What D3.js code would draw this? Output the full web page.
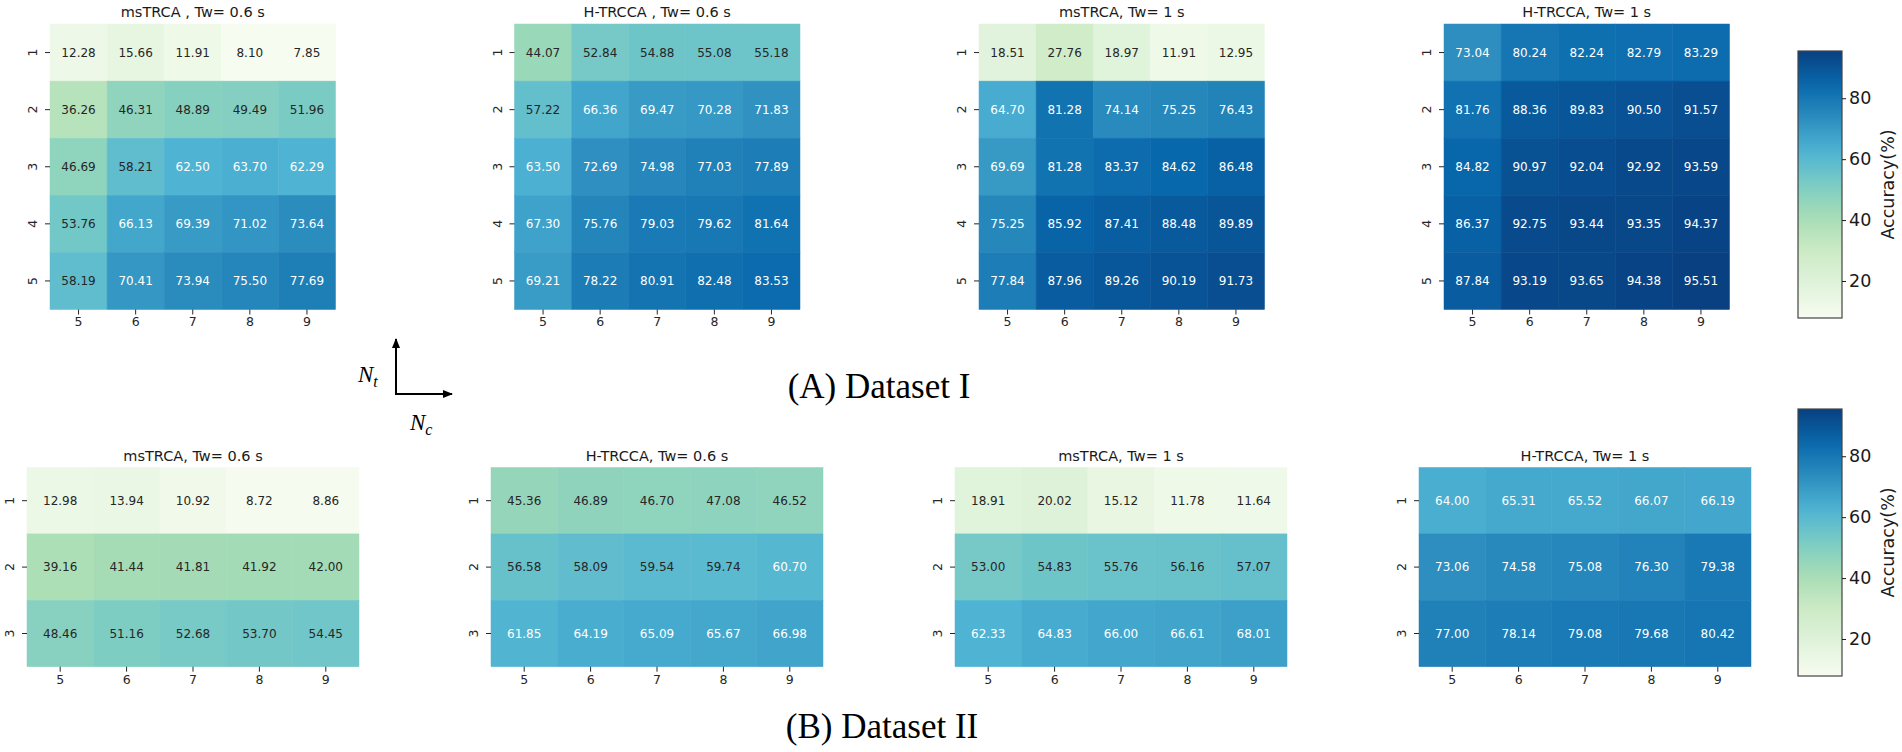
<!DOCTYPE html>
<html>
<head>
<meta charset="utf-8">
<script src="https://cdn.jsdelivr.net/npm/d3@7"></script>
<style>
  body { margin: 0; background: #fff; }
  svg text { font-family: "DejaVu Sans", sans-serif; }
</style>
</head>
<body>
<svg id="chart" width="1902" height="752"></svg>
<script>
// Nc on the x axis, Nt on the y axis
const ncValues = [5, 6, 7, 8, 9];
const ntValuesA = [1, 2, 3, 4, 5];
const ntValuesB = [1, 2, 3];

const titlesA = ["msTRCA , Tw= 0.6 s", "H-TRCCA , Tw= 0.6 s", "msTRCA, Tw= 1 s", "H-TRCCA, Tw= 1 s"];
const titlesB = ["msTRCA, Tw= 0.6 s", "H-TRCCA, Tw= 0.6 s", "msTRCA, Tw= 1 s", "H-TRCCA, Tw= 1 s"];

// Dataset I
const msTRCA06A = [
    [12.28, 15.66, 11.91, 8.10, 7.85],
    [36.26, 46.31, 48.89, 49.49, 51.96],
    [46.69, 58.21, 62.50, 63.70, 62.29],
    [53.76, 66.13, 69.39, 71.02, 73.64],
    [58.19, 70.41, 73.94, 75.50, 77.69]
];
const hTRCCA06A = [
    [44.07, 52.84, 54.88, 55.08, 55.18],
    [57.22, 66.36, 69.47, 70.28, 71.83],
    [63.50, 72.69, 74.98, 77.03, 77.89],
    [67.30, 75.76, 79.03, 79.62, 81.64],
    [69.21, 78.22, 80.91, 82.48, 83.53]
];
const msTRCA1A = [
    [18.51, 27.76, 18.97, 11.91, 12.95],
    [64.70, 81.28, 74.14, 75.25, 76.43],
    [69.69, 81.28, 83.37, 84.62, 86.48],
    [75.25, 85.92, 87.41, 88.48, 89.89],
    [77.84, 87.96, 89.26, 90.19, 91.73]
];
const hTRCCA1A = [
    [73.04, 80.24, 82.24, 82.79, 83.29],
    [81.76, 88.36, 89.83, 90.50, 91.57],
    [84.82, 90.97, 92.04, 92.92, 93.59],
    [86.37, 92.75, 93.44, 93.35, 94.37],
    [87.84, 93.19, 93.65, 94.38, 95.51]
];

// Dataset II
const msTRCA06B = [
    [12.98, 13.94, 10.92, 8.72, 8.86],
    [39.16, 41.44, 41.81, 41.92, 42.00],
    [48.46, 51.16, 52.68, 53.70, 54.45]
];
const hTRCCA06B = [
    [45.36, 46.89, 46.70, 47.08, 46.52],
    [56.58, 58.09, 59.54, 59.74, 60.70],
    [61.85, 64.19, 65.09, 65.67, 66.98]
];
const msTRCA1B = [
    [18.91, 20.02, 15.12, 11.78, 11.64],
    [53.00, 54.83, 55.76, 56.16, 57.07],
    [62.33, 64.83, 66.00, 66.61, 68.01]
];
const hTRCCA1B = [
    [64.00, 65.31, 65.52, 66.07, 66.19],
    [73.06, 74.58, 75.08, 76.30, 79.38],
    [77.00, 78.14, 79.08, 79.68, 80.42]
];

const colorbarTicks = [20, 40, 60, 80];

const svg = d3.select("#chart");

// shared colour range (both colorbars run 7.85 .. 95.51)
const allValues = [msTRCA06A, hTRCCA06A, msTRCA1A, hTRCCA1A].flat(2);
const vmin = d3.min(allValues), vmax = d3.max(allValues);
const gnbu = d3.schemeGnBu[9];
const color = d3.scaleLinear()
    .domain(gnbu.map((c, i) => vmin + i * (vmax - vmin) / 8))
    .range(gnbu)
    .interpolate(d3.interpolateRgb);

// seaborn picks annotation colour from the cell luminance
function luminance(c) {
    const rgb = d3.rgb(c);
    const lin = v => { v /= 255; return v <= 0.03928 ? v / 12.92 : Math.pow((v + 0.055) / 1.055, 2.4); };
    return 0.2126 * lin(rgb.r) + 0.7152 * lin(rgb.g) + 0.0722 * lin(rgb.b);
}

function drawHeatmap(data, rows, title, left, top, cell) {
    const x = d3.scaleBand().domain(ncValues).range([left, left + cell * ncValues.length]);
    const y = d3.scaleBand().domain(rows).range([top, top + cell * rows.length]);

    const cells = [];
    data.forEach((row, i) => row.forEach((v, j) => cells.push({nt: rows[i], nc: ncValues[j], v: v})));

    const g = svg.append("g");
    g.selectAll("rect")
        .data(cells)
        .enter()
        .append("rect")
        .attr("x", d => x(d.nc))
        .attr("y", d => y(d.nt))
        .attr("width", x.bandwidth())
        .attr("height", y.bandwidth())
        .attr("fill", d => color(d.v))
        .attr("stroke", d => color(d.v))
        .attr("stroke-width", 0.5);

    g.selectAll("text.val")
        .data(cells)
        .enter()
        .append("text")
        .attr("class", "val")
        .attr("x", d => x(d.nc) + x.bandwidth() / 2)
        .attr("y", d => y(d.nt) + y.bandwidth() / 2)
        .attr("dy", "0.35em")
        .attr("text-anchor", "middle")
        .style("font-size", "12px")
        .attr("fill", d => luminance(color(d.v)) > 0.408 ? "#262626" : "#ffffff")
        .text(d => d.v.toFixed(2));

    // x axis
    const xAxis = svg.append("g")
        .attr("transform", `translate(0,${top + cell * rows.length})`)
        .call(d3.axisBottom(x).tickSize(5).tickPadding(3));
    xAxis.select(".domain").remove();
    xAxis.selectAll("text").style("font-size", "12.5px").attr("fill", "#262626");
    xAxis.selectAll("line").attr("stroke", "#262626");

    // y axis, labels rotated like matplotlib's vertical ticks
    const yAxis = svg.append("g")
        .attr("transform", `translate(${left},0)`)
        .call(d3.axisLeft(y).tickSize(5));
    yAxis.select(".domain").remove();
    yAxis.selectAll("line").attr("stroke", "#262626");
    yAxis.selectAll("text")
        .attr("x", null)
        .attr("dy", "0.35em")
        .attr("text-anchor", "middle")
        .attr("transform", "translate(-17,0) rotate(-90)")
        .style("font-size", "12.5px")
        .attr("fill", "#262626");

    svg.append("text")
        .attr("x", left + cell * ncValues.length / 2)
        .attr("y", top - 12)
        .attr("dy", "0.35em")
        .attr("text-anchor", "middle")
        .style("font-size", "14.5px")
        .attr("fill", "#1a1a1a")
        .text(title);
}

// gradient for the colorbars
const grad = svg.append("defs").append("linearGradient")
    .attr("id", "gnbu")
    .attr("x1", 0).attr("y1", 1).attr("x2", 0).attr("y2", 0);
d3.range(0, 1.0001, 0.05).forEach(t => {
    grad.append("stop")
        .attr("offset", t)
        .attr("stop-color", color(vmin + t * (vmax - vmin)));
});

function drawColorbar(left, top, height) {
    const width = 44;
    const s = d3.scaleLinear().domain([vmin, vmax]).range([top + height, top]);
    svg.append("rect")
        .attr("x", left).attr("y", top)
        .attr("width", width).attr("height", height)
        .attr("fill", "url(#gnbu)")
        .attr("stroke", "#444")
        .attr("stroke-width", 1.2);
    const ax = svg.append("g")
        .attr("transform", `translate(${left + width},0)`)
        .call(d3.axisRight(s).tickValues(colorbarTicks).tickSize(4).tickPadding(3));
    ax.select(".domain").remove();
    ax.selectAll("text").style("font-size", "17.5px").attr("fill", "#1a1a1a");
    ax.selectAll("line").attr("stroke", "#1a1a1a");
    svg.append("text")
        .attr("transform", `translate(${left + width + 46},${top + height / 2}) rotate(-90)`)
        .attr("text-anchor", "middle")
        .attr("dy", "0.35em")
        .style("font-size", "17.5px")
        .attr("fill", "#1a1a1a")
        .text("Accuracy(%)");
}

const seriesA = [msTRCA06A, hTRCCA06A, msTRCA1A, hTRCCA1A];
const seriesB = [msTRCA06B, hTRCCA06B, msTRCA1B, hTRCCA1B];
const leftsA = [50, 514.5, 979, 1444];
const leftsB = [27, 491, 955, 1419];

seriesA.forEach((d, i) => drawHeatmap(d, ntValuesA, titlesA[i], leftsA[i], 24, 57.1));
seriesB.forEach((d, i) => drawHeatmap(d, ntValuesB, titlesB[i], leftsB[i], 467.5, 66.4));

drawColorbar(1798, 51, 267);
drawColorbar(1798, 409, 267);

// Nt / Nc direction arrows
const defs = svg.select("defs");
defs.append("marker")
    .attr("id", "head")
    .attr("viewBox", "0 0 10 10")
    .attr("refX", 9).attr("refY", 5)
    .attr("markerWidth", 5).attr("markerHeight", 5)
    .attr("orient", "auto")
    .append("path")
    .attr("d", "M0,1 L10,5 L0,9 Z")
    .attr("fill", "#000");

svg.append("line")
    .attr("x1", 396).attr("y1", 394).attr("x2", 396).attr("y2", 339)
    .attr("stroke", "#000").attr("stroke-width", 2)
    .attr("marker-end", "url(#head)");
svg.append("line")
    .attr("x1", 395).attr("y1", 394).attr("x2", 452).attr("y2", 394)
    .attr("stroke", "#000").attr("stroke-width", 2)
    .attr("marker-end", "url(#head)");

function mathLabel(x, y, sub) {
    const t = svg.append("text")
        .attr("x", x).attr("y", y)
        .style("font-family", "'Liberation Serif', serif")
        .style("font-style", "italic")
        .style("font-size", "23px")
        .attr("fill", "#000");
    t.append("tspan").text("N");
    t.append("tspan").attr("dy", 5).style("font-size", "16px").text(sub);
}
mathLabel(358, 382, "t");
mathLabel(410, 430, "c");

// panel captions
svg.append("text")
    .attr("x", 879).attr("y", 398)
    .attr("text-anchor", "middle")
    .style("font-family", "'Liberation Serif', serif")
    .style("font-size", "35px")
    .attr("fill", "#000")
    .text("(A) Dataset I");
svg.append("text")
    .attr("x", 882).attr("y", 738)
    .attr("text-anchor", "middle")
    .style("font-family", "'Liberation Serif', serif")
    .style("font-size", "35px")
    .attr("fill", "#000")
    .text("(B) Dataset II");
</script>
</body>
</html>
